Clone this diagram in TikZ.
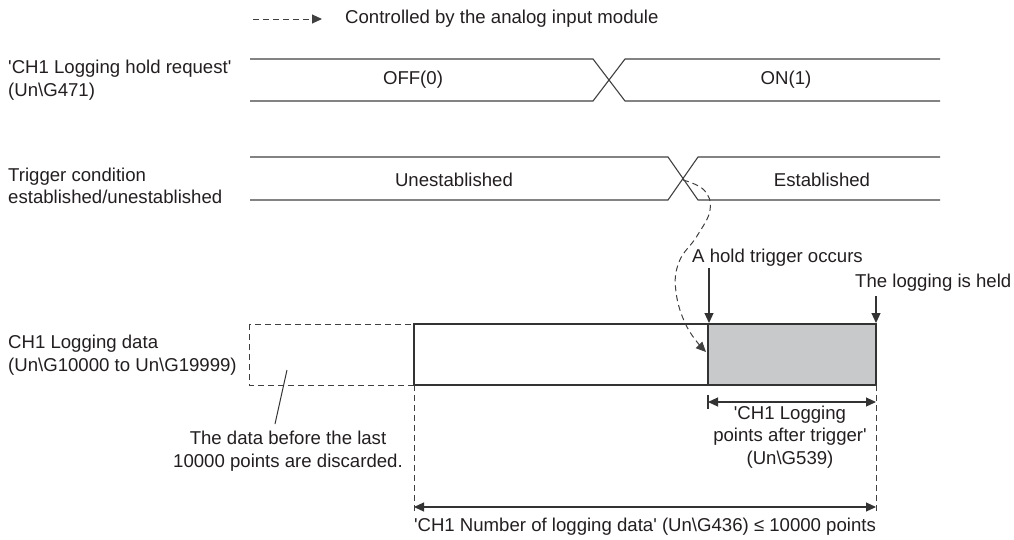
\documentclass[tikz,border=0pt]{standalone}
\usepackage{fontspec}
\setmainfont{Liberation Sans}
\usetikzlibrary{arrows.meta}
\definecolor{boxgray}{RGB}{200,201,203}
\definecolor{ink}{RGB}{35,31,32}
\newcommand\sq{\textquotesingle}
\begin{document}
\begin{tikzpicture}[x=1pt,y=-1pt,
  txt/.style={font=\fontsize{18.6}{22.5}\selectfont, text=ink, inner sep=0pt},
  sig/.style={line width=1.1pt, draw=black!75},
  tip/.style={-{Triangle[length=10pt,width=9pt]}},
  dtip/.style={{Triangle[length=10pt,width=9pt]}-{Triangle[length=10pt,width=9pt]}},
  dsh/.style={dash pattern=on 6pt off 4pt, line width=1pt, draw=black!75},
  solidln/.style={line width=1.1pt, draw=black!80}]
\useasboundingbox (0,0) rectangle (1014,539);

% legend
\coordinate (lg1) at (253,19);
\coordinate (lg2) at (322,19);
\draw[dsh,tip] (lg1) -- (lg2);
\node[txt, anchor=west] (lgt) at (345,19) {Controlled by the analog input module};

% row labels
\node[txt, anchor=west, align=left] (l1) at (8,80) {\sq CH1 Logging hold request\sq\\(Un\textbackslash G471)};
\node[txt, anchor=west, align=left] (l2) at (8,186) {Trigger condition\\established/unestablished};
\node[txt, anchor=west, align=left] (l3) at (8,355) {CH1 Logging data\\(Un\textbackslash G10000 to Un\textbackslash G19999)};

% row 1 signal
\coordinate (a1) at (250,59);  \coordinate (a2) at (593,59);
\coordinate (a3) at (625,101); \coordinate (a4) at (940,101);
\coordinate (b1) at (250,101); \coordinate (b2) at (593,101);
\coordinate (b3) at (625,59);  \coordinate (b4) at (940,59);
\draw[sig] (a1) -- (a2) -- (a3) -- (a4);
\draw[sig] (b1) -- (b2) -- (b3) -- (b4);
\node[txt] (off) at (413,80) {OFF(0)};
\node[txt] (on) at (786,80) {ON(1)};

% row 2 signal
\coordinate (c1) at (250,157); \coordinate (c2) at (668,157);
\coordinate (c3) at (698,200); \coordinate (c4) at (940,200);
\coordinate (d1) at (250,200); \coordinate (d2) at (668,200);
\coordinate (d3) at (698,157); \coordinate (d4) at (940,157);
\draw[sig] (c1) -- (c2) -- (c3) -- (c4);
\draw[sig] (d1) -- (d2) -- (d3) -- (d4);
\node[txt] (une) at (454,180) {Unestablished};
\node[txt] (est) at (822,180) {Established};

% logging data
\coordinate (dl) at (249,324);
\coordinate (dm) at (414,385);
\draw[dsh] (dl) rectangle (dm);
\draw[solidln, fill=white] (414,324) rectangle (708,385);
\draw[solidln, fill=boxgray] (708,324) rectangle (876,385);

% dashed trigger curve
\draw[dsh,tip] plot[smooth, tension=0.7] coordinates
  {(683,180) (704,190) (710,210) (697,236) (679,262) (676,292) (687,327) (706,352)};

% hold trigger labels
\node[txt, anchor=west] (hto) at (692,258) {A hold trigger occurs};
\coordinate (ht1) at (709,268); \coordinate (ht2) at (709,323);
\draw[solidln,tip] (ht1) -- (ht2);
\node[txt, anchor=west] (lih) at (855,283) {The logging is held};
\coordinate (lh1) at (876,296); \coordinate (lh2) at (876,323);
\draw[solidln,tip] (lh1) -- (lh2);

% discarded note
\coordinate (s1) at (287,370); \coordinate (s2) at (275,424);
\draw[line width=1pt, draw=black!80] (s1) -- (s2);
\node[txt, align=center] (disc) at (288,451) {The data before the last\\10000 points are discarded.};

% dimension lines
\coordinate (v1a) at (414,385); \coordinate (v1b) at (414,512);
\coordinate (v2a) at (876,385); \coordinate (v2b) at (876,512);
\draw[dsh] (v1a) -- (v1b);
\draw[dsh] (v2a) -- (v2b);
\coordinate (t1) at (708,395); \coordinate (t2) at (708,409);
\draw[line width=1.2pt, draw=black!80] (t1) -- (t2);
\coordinate (p1) at (708,402); \coordinate (p2) at (876,402);
\draw[solidln,dtip] (p1) -- (p2);
\node[txt, align=center] (pat) at (790,437) {\sq CH1 Logging\\points after trigger\sq\\(Un\textbackslash G539)};
\coordinate (q1) at (414,507); \coordinate (q2) at (876,507);
\draw[solidln,dtip] (q1) -- (q2);
\node[txt] (nld) at (645,527) {\sq CH1 Number of logging data\sq\ (Un\textbackslash G436) ≤ 10000 points};
\end{tikzpicture}
\end{document}
